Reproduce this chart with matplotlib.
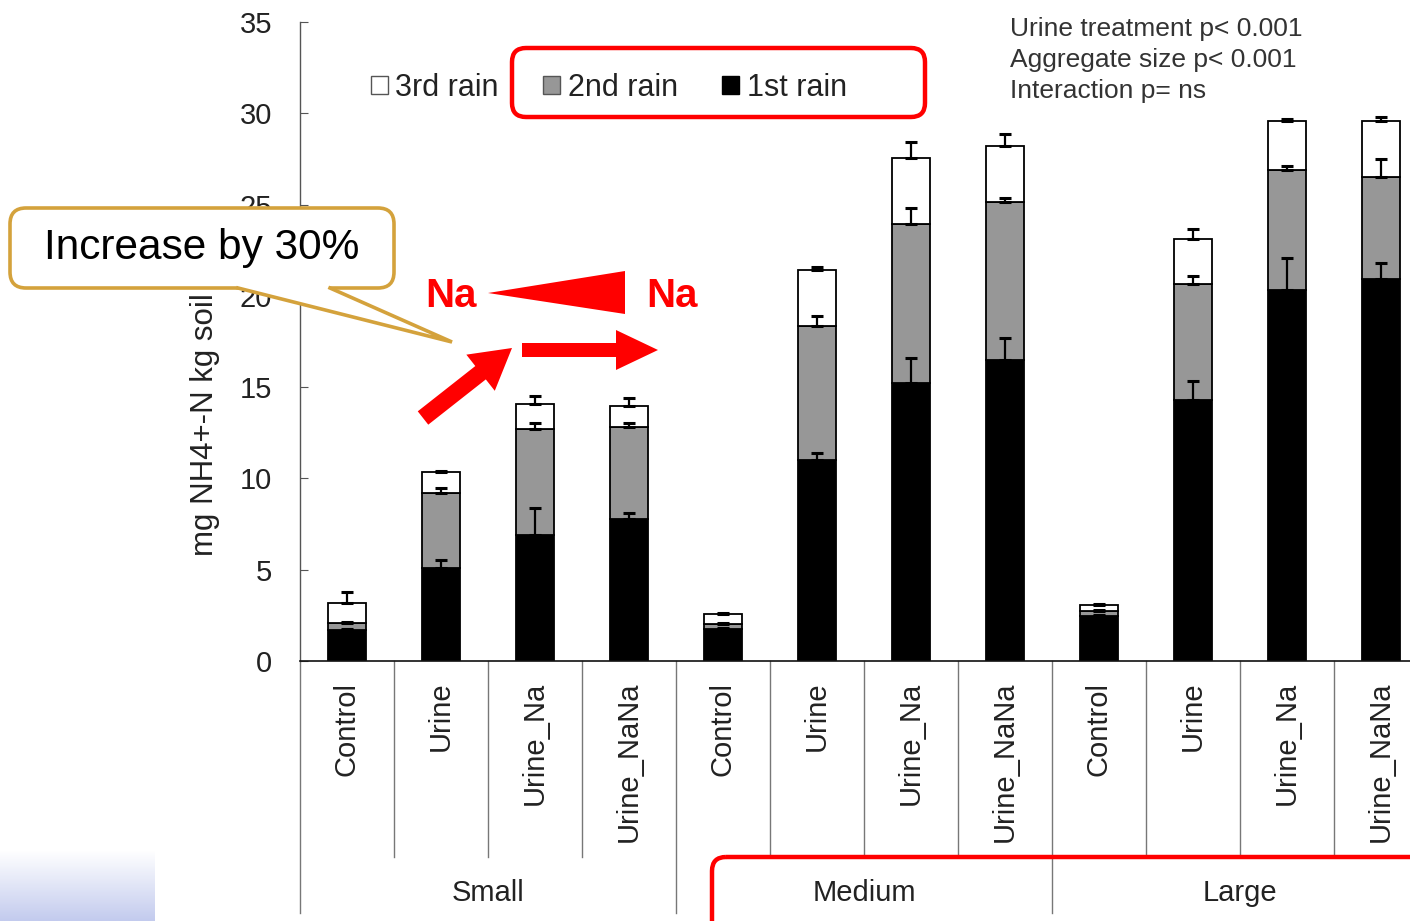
import numpy as np
import matplotlib
matplotlib.use("Agg")
import matplotlib.pyplot as plt
from matplotlib.patches import Patch, FancyBboxPatch, Polygon, FancyArrow
from matplotlib.colors import LinearSegmentedColormap

plt.rcParams['font.family'] = ['Liberation Sans', 'DejaVu Sans']

# NH4+-N leached per rain event (mg/kg soil), stacked per treatment
treatments = ['Control', 'Urine', 'Urine_Na', 'Urine_NaNa'] * 3
sizes = ['Small', 'Medium', 'Large']
rain1 = [1.70, 5.09, 6.90, 7.77, 1.75, 11.00, 15.20, 16.50, 2.45, 14.30, 20.30, 20.90]
rain2 = [0.38, 4.11, 5.80, 5.03, 0.30, 7.34, 8.72, 8.62, 0.30, 6.33, 6.57, 5.60]
rain3 = [1.09, 1.14, 1.37, 1.16, 0.50, 3.06, 3.61, 3.07, 0.30, 2.47, 2.73, 3.10]
err1 = [0.05, 0.44, 1.50, 0.33, 0.05, 0.38, 1.38, 1.20, 0.05, 1.04, 1.77, 0.88]
err2 = [0.05, 0.30, 0.33, 0.22, 0.05, 0.55, 0.88, 0.22, 0.05, 0.44, 0.27, 0.98]
err3 = [0.60, 0.05, 0.44, 0.44, 0.08, 0.20, 0.88, 0.66, 0.08, 0.55, 0.10, 0.22]
stats = "Urine treatment p< 0.001\nAggregate size p< 0.001\nInteraction p= ns"

W, H = 1410, 921
fig = plt.figure(figsize=(W / 100, H / 100), dpi=100)
ax = fig.add_axes([300 / W, (H - 661) / H, 1128 / W, 639 / H])

x = np.arange(len(treatments))
r1 = np.array(rain1)
r2 = np.array(rain2)
r3 = np.array(rain3)
bw = 0.41
ax.bar(x, r1, bw, color='black', edgecolor='black', linewidth=1.3, zorder=2)
ax.bar(x, r2, bw, bottom=r1, color='#979797', edgecolor='black', linewidth=1.3, zorder=2)
ax.bar(x, r3, bw, bottom=r1 + r2, color='white', edgecolor='black', linewidth=1.3, zorder=2)

tops = [r1, r1 + r2, r1 + r2 + r3]
for top, err in zip(tops, [err1, err2, err3]):
    ax.errorbar(x, top, yerr=[np.zeros(len(x)), err], fmt='none', ecolor='black',
                elinewidth=1.6, capsize=4, capthick=2.2, zorder=3)

ax.set_xlim(-0.5, len(x) - 0.5)
ax.set_ylim(0, 35)
ax.set_yticks(range(0, 36, 5))
ax.tick_params(axis='y', direction='in', length=6, color='#555', labelsize=21,
               labelcolor='#222', pad=20)
ax.set_xticks(x)
ax.set_xticklabels(treatments, rotation=90, fontsize=21, color='#222', va='top')
ax.tick_params(axis='x', length=0, pad=15)
for s in ['top', 'right']:
    ax.spines[s].set_visible(False)
ax.spines['left'].set_color('#555')
ax.spines['left'].set_linewidth(1.0)
ax.spines['bottom'].set_color('#111')
ax.spines['bottom'].set_linewidth(1.2)

# separators under the category axis
xt = ax.get_xaxis_transform()
for b in np.arange(0.5, len(x) - 0.5, 1.0):
    long = (b + 0.5) % 4 == 0
    ax.plot([b, b], [0, -0.394 if long else -0.307], color='#777', lw=1.0,
            transform=xt, clip_on=False)
ax.plot([-0.5, -0.5], [0, -0.394], color='#777', lw=1.0, transform=xt, clip_on=False)
for i, name in enumerate(sizes):
    ax.text(4 * i + 1.5, -0.363, name, transform=xt, ha='center', va='center',
            fontsize=21, color='#222')

handles = [Patch(facecolor='white', edgecolor='#555', label='3rd rain'),
           Patch(facecolor='#979797', edgecolor='#555', label='2nd rain'),
           Patch(facecolor='black', edgecolor='black', label='1st rain')]
ax.legend(handles=handles, ncol=3, loc='center left', frameon=False,
          bbox_to_anchor=(371 / W, 1 - 88 / H), bbox_transform=fig.transFigure,
          fontsize=22, handlelength=0.55, handleheight=0.55, handletextpad=0.25,
          columnspacing=1.45, borderpad=0, borderaxespad=0, labelcolor='#222')

fig.text(205 / W, 1 - 556 / H, 'mg NH4+-N kg soil', rotation=90, ha='center',
         va='bottom', fontsize=22.5, color='#222')

# overlay in pixel units for the annotations
ov = fig.add_axes([0, 0, 1, 1], zorder=5)
grad = np.linspace(0, 1, 64).reshape(-1, 1)
cmap = LinearSegmentedColormap.from_list('bg', ['#ffffff', '#c3cbee'])
ov.imshow(grad, extent=(0, 155, 921, 850), aspect='auto', cmap=cmap, origin='upper')
ov.set_xlim(0, W)
ov.set_ylim(H, 0)
ov.axis('off')

ov.text(1010, 17, stats, ha='left', va='top', fontsize=19, color='#333', linespacing=1.38)

red = '#ff0000'
ov.add_patch(FancyBboxPatch((512, 48), 413, 69, boxstyle='round,pad=0,rounding_size=14',
                            fc='none', ec=red, lw=3.2))
ov.add_patch(FancyBboxPatch((712, 857), 740, 100, boxstyle='round,pad=0,rounding_size=14',
                            fc='none', ec=red, lw=3.2))

gold = '#d4a23c'
ov.add_patch(FancyBboxPatch((10, 208), 384, 80, boxstyle='round,pad=0,rounding_size=16',
                            fc='white', ec=gold, lw=2.6))
ov.add_patch(Polygon([(238, 282), (238, 288), (452, 342), (330, 288), (330, 282)],
                     closed=True, fc='white', ec='none'))
ov.plot([238, 452, 330], [288, 342, 288], color=gold, lw=2.6, solid_joinstyle='miter')
ov.text(202, 248, 'Increase by 30%', ha='center', va='center', fontsize=30.5, color='black')

ov.add_patch(Polygon([(488, 293), (625, 271), (625, 314)], closed=True, fc=red, ec='none'))
ov.text(451, 296, 'Na', ha='center', va='center', fontsize=29, fontweight='bold', color=red)
ov.text(672, 296, 'Na', ha='center', va='center', fontsize=29, fontweight='bold', color=red)
ov.add_patch(FancyArrow(522, 350, 136, 0, width=14, head_width=40, head_length=42,
                        length_includes_head=True, fc=red, ec='none'))
ov.add_patch(FancyArrow(423, 418, 89, -70, width=17, head_width=46, head_length=40,
                        length_includes_head=True, fc=red, ec='none'))

fig.savefig('out.png', dpi=100)
